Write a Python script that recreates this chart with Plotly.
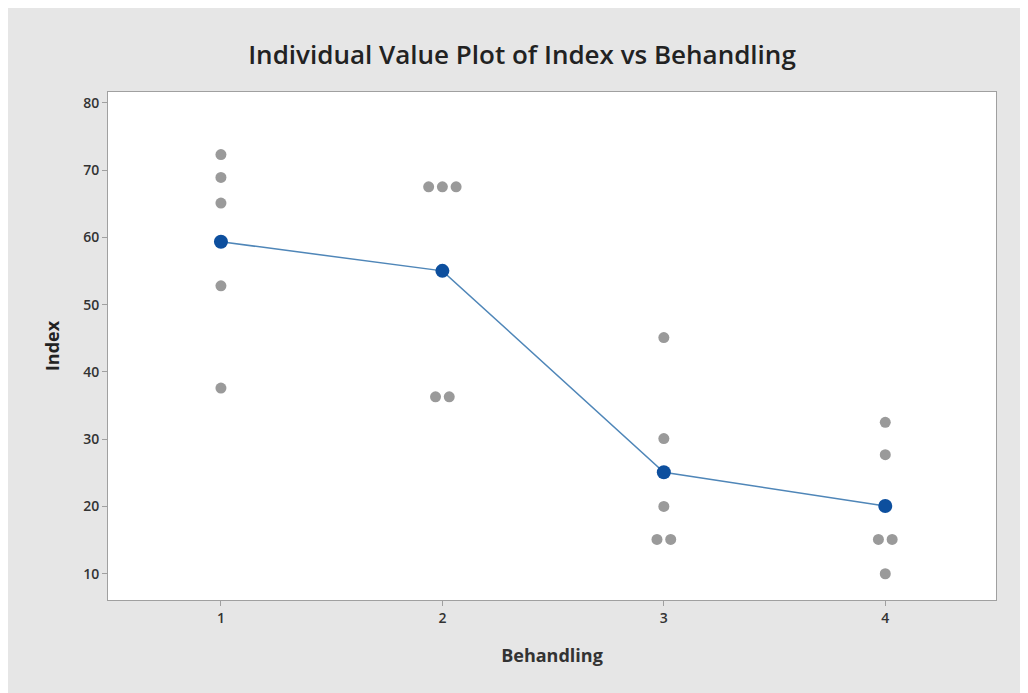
import plotly.graph_objects as go
from collections import Counter

groups = [1, 2, 3, 4]
values_1 = [72.3, 68.9, 65.1, 52.8, 37.6]
values_2 = [67.5, 67.5, 67.5, 36.3, 36.3]
values_3 = [45.1, 30.1, 20.0, 15.1, 15.1]
values_4 = [32.5, 27.7, 15.1, 15.1, 10.0]
all_values = [values_1, values_2, values_3, values_4]
y_ticks = [10, 20, 30, 40, 50, 60, 70, 80]

step = 0.062
xs, ys = [], []
for g, vals in zip(groups, all_values):
    counts = Counter(vals)
    seen = Counter()
    for v in vals:
        n = counts[v]
        k = seen[v]
        seen[v] += 1
        xs.append(g + (k - (n - 1) / 2) * step)
        ys.append(v)

means = [sum(v) / len(v) for v in all_values]

fig = go.Figure()
fig.add_trace(go.Scatter(x=xs, y=ys, mode="markers",
                         marker=dict(color="#9a9a9a", size=11, line=dict(width=0)),
                         showlegend=False, hoverinfo="skip"))
fig.add_trace(go.Scatter(x=groups, y=means, mode="lines+markers",
                         line=dict(color="#4f86b8", width=1.5),
                         marker=dict(color="#0d4f9e", size=14, line=dict(width=0)),
                         showlegend=False))

W, H = 1028, 693
l, r, t, b = 100, 40, 84, 101

fig.update_layout(
    width=W, height=H,
    margin=dict(l=l, r=r, t=t, b=b),
    paper_bgcolor="#e6e6e6",
    plot_bgcolor="white",
    font=dict(family="Open Sans, DejaVu Sans, sans-serif", color="#333333"),
    title=dict(text="Individual Value Plot of Index vs Behandling",
               x=0.5, xanchor="center", y=1 - 47 / H, yanchor="middle",
               font=dict(size=26, color="#222222", family="Open Sans, sans-serif",
                         weight=600)),
    xaxis=dict(range=[0.49, 4.5], tickmode="array", tickvals=groups,
               ticktext=[str(g) for g in groups],
               showgrid=False, zeroline=False, showline=True, linecolor="#a0a0a0",
               mirror=True, ticks="outside", ticklen=5, tickcolor="#a0a0a0",
               tickfont=dict(size=14, color="#333333", weight=600),
               title=dict(text="Behandling",
                          font=dict(size=18, color="#333333", weight=700),
                          standoff=23)),
    yaxis=dict(range=[6.1, 81.6], tickmode="array", tickvals=y_ticks,
               showgrid=False, zeroline=False, showline=True, linecolor="#a0a0a0",
               mirror=True, ticks="outside", ticklen=5, tickcolor="#a0a0a0",
               tickfont=dict(size=14, color="#333333", weight=600),
               title=dict(text="Index", font=dict(size=18, color="#222222", weight=700),
                          standoff=18)),
)

fig.write_html("out.html")
